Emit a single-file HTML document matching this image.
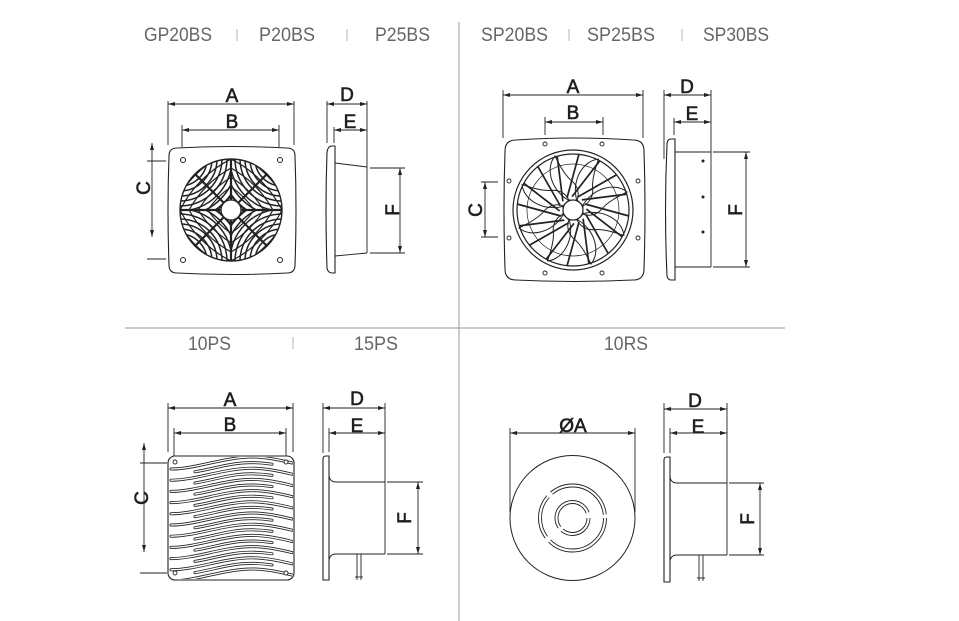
<!DOCTYPE html>
<html>
<head>
<meta charset="utf-8">
<style>
html,body{margin:0;padding:0;background:#fff;}
svg{display:block;}
</style>
</head>
<body>
<svg width="959" height="621" viewBox="0 0 959 621" xmlns="http://www.w3.org/2000/svg" xmlns:xlink="http://www.w3.org/1999/xlink" font-family="'Liberation Sans', sans-serif">
<defs>
  <marker id="ar" viewBox="0 0 7 4" refX="7" refY="2" markerWidth="7" markerHeight="4" markerUnits="userSpaceOnUse" orient="auto-start-reverse">
    <path d="M0,0 L7,2 L0,4 z" fill="#222"/>
  </marker>
  <clipPath id="gc"><circle cx="231" cy="210" r="51"/></clipPath>
  <clipPath id="q1"><rect x="180" y="159" width="51" height="51"/></clipPath>
  <clipPath id="q2"><rect x="231" y="159" width="51" height="51"/></clipPath>
  <clipPath id="q3"><rect x="180" y="210" width="51" height="51"/></clipPath>
  <clipPath id="q4"><rect x="231" y="210" width="51" height="51"/></clipPath>
  <clipPath id="pl"><rect x="169" y="457" width="124" height="122" rx="6"/></clipPath>
  <g id="cc" fill="none">
    <circle r="12"/><circle r="17"/><circle r="22"/><circle r="27"/><circle r="32"/><circle r="37"/>
    <circle r="42"/><circle r="47"/><circle r="52"/><circle r="57"/><circle r="62"/><circle r="67"/><circle r="72"/>
  </g>
  <g id="cc2" fill="none">
    <circle r="82"/><circle r="90"/><circle r="98"/><circle r="106"/><circle r="114"/><circle r="122"/>
  </g>
  <path id="blade" d="M10,-5 C20,-22 42,-28 54,-18 C46,-14 34,-8 28,0 C22,6 14,6 10,4 Z" fill="none"/>
  <line id="spk" x1="12" y1="-6" x2="56" y2="6"/>
  <path id="wf" d="M171,6 C196,6 224,-6 252,-6 C266,-6 280,-3 292,0" fill="none"/>
  <path id="ws" d="M195,3.2 C215,0 230,-6 252,-6 C262,-6 268,-5 272,-4.4" fill="none"/>
  <g id="rows">
    <use xlink:href="#wf" y="463"/>
    <use xlink:href="#ws" y="468.6"/>
    <use xlink:href="#wf" y="474.2"/>
    <use xlink:href="#ws" y="479.8"/>
    <use xlink:href="#wf" y="485.4"/>
    <use xlink:href="#ws" y="491"/>
    <use xlink:href="#wf" y="496.6"/>
    <use xlink:href="#ws" y="502.2"/>
    <use xlink:href="#wf" y="507.8"/>
    <use xlink:href="#ws" y="513.4"/>
    <use xlink:href="#wf" y="519"/>
    <use xlink:href="#ws" y="524.6"/>
    <use xlink:href="#wf" y="530.2"/>
    <use xlink:href="#ws" y="535.8"/>
    <use xlink:href="#wf" y="541.4"/>
    <use xlink:href="#ws" y="547"/>
    <use xlink:href="#wf" y="552.6"/>
    <use xlink:href="#ws" y="558.2"/>
    <use xlink:href="#wf" y="563.8"/>
    <use xlink:href="#ws" y="569.4"/>
    <use xlink:href="#wf" y="575"/>
  </g>
</defs>

<rect width="959" height="621" fill="#fff"/>

<!-- dividers -->
<line x1="459" y1="22" x2="459" y2="621" stroke="#9a9a9a" stroke-width="1"/>
<line x1="125" y1="328" x2="785" y2="328" stroke="#9a9a9a" stroke-width="1"/>

<!-- headers -->
<g fill="#666" font-size="19.5">
  <text x="144" y="41" textLength="68" lengthAdjust="spacingAndGlyphs">GP20BS</text>
  <text x="259" y="41" textLength="56" lengthAdjust="spacingAndGlyphs">P20BS</text>
  <text x="375" y="41" textLength="55" lengthAdjust="spacingAndGlyphs">P25BS</text>
  <text x="481" y="41" textLength="67" lengthAdjust="spacingAndGlyphs">SP20BS</text>
  <text x="587" y="41" textLength="68" lengthAdjust="spacingAndGlyphs">SP25BS</text>
  <text x="703" y="41" textLength="66" lengthAdjust="spacingAndGlyphs">SP30BS</text>
  <text x="188" y="350" textLength="43" lengthAdjust="spacingAndGlyphs">10PS</text>
  <text x="354" y="350" textLength="44" lengthAdjust="spacingAndGlyphs">15PS</text>
  <text x="604" y="350" textLength="44" lengthAdjust="spacingAndGlyphs">10RS</text>
</g>
<g stroke="#b5b5b5" stroke-width="1">
  <line x1="237" y1="29" x2="237" y2="41"/>
  <line x1="347" y1="29" x2="347" y2="41"/>
  <line x1="569" y1="29" x2="569" y2="41"/>
  <line x1="682" y1="29" x2="682" y2="41"/>
  <line x1="293" y1="337" x2="293" y2="349"/>
</g>

<!-- dimension labels -->
<g fill="#1e1e1e" stroke="#1e1e1e" stroke-width="0.6" font-size="19" text-anchor="middle">
  <text x="232" y="102">A</text>
  <text x="232" y="128">B</text>
  <text x="347" y="101">D</text>
  <text x="350" y="128">E</text>
  <text x="573" y="93">A</text>
  <text x="573" y="119">B</text>
  <text x="687" y="93">D</text>
  <text x="692" y="120">E</text>
  <text x="230" y="406">A</text>
  <text x="230" y="431">B</text>
  <text x="357" y="405">D</text>
  <text x="357" y="432">E</text>
  <text x="573" y="432">ØA</text>
  <text x="695" y="407">D</text>
  <text x="698" y="433">E</text>
  <text transform="translate(143 188) rotate(-90)" dy="7">C</text>
  <text transform="translate(392 210) rotate(-90)" dy="7">F</text>
  <text transform="translate(475 210) rotate(-90)" dy="7">C</text>
  <text transform="translate(735 210) rotate(-90)" dy="7">F</text>
  <text transform="translate(141 498) rotate(-90)" dy="7">C</text>
  <text transform="translate(404 518) rotate(-90)" dy="7">F</text>
  <text transform="translate(747 519) rotate(-90)" dy="7">F</text>
</g>

<!-- ===== GP front ===== -->
<g stroke="#222" stroke-width="0.9" fill="none">
  <line x1="168" y1="101" x2="168" y2="145"/>
  <line x1="294" y1="101" x2="294" y2="145"/>
  <line x1="182" y1="125" x2="182" y2="147"/>
  <line x1="279" y1="125" x2="279" y2="147"/>
  <line x1="168" y1="104" x2="294" y2="104" marker-start="url(#ar)" marker-end="url(#ar)"/>
  <line x1="182" y1="130" x2="279" y2="130" marker-start="url(#ar)" marker-end="url(#ar)"/>
  <line x1="152" y1="143" x2="152" y2="237" marker-start="url(#ar)" marker-end="url(#ar)"/>
  <line x1="147" y1="161" x2="166" y2="161"/>
  <line x1="147" y1="259" x2="166" y2="259"/>
</g>
<path d="M177,148 Q232,145 287,148 Q295,148 295,156 Q297,210 295,265 Q295,273 287,273 Q232,276 177,273 Q169,273 169,265 Q167,210 169,156 Q169,148 177,148 Z" fill="#fff" stroke="#222" stroke-width="1.1"/>
<g fill="none" stroke="#222" stroke-width="1">
  <circle cx="183" cy="160" r="2.5"/><circle cx="280" cy="160" r="2.5"/>
  <circle cx="183" cy="260" r="2.5"/><circle cx="280" cy="260" r="2.5"/>
</g>
<g clip-path="url(#gc)" stroke="#222" stroke-width="1.5">
  <g clip-path="url(#q1)"><use xlink:href="#cc" x="180" y="159"/><use xlink:href="#cc2" x="282" y="261" stroke-width="1.2"/></g>
  <g clip-path="url(#q2)"><use xlink:href="#cc" x="282" y="159"/><use xlink:href="#cc2" x="180" y="261" stroke-width="1.2"/></g>
  <g clip-path="url(#q3)"><use xlink:href="#cc" x="180" y="261"/><use xlink:href="#cc2" x="282" y="159" stroke-width="1.2"/></g>
  <g clip-path="url(#q4)"><use xlink:href="#cc" x="282" y="261"/><use xlink:href="#cc2" x="180" y="159" stroke-width="1.2"/></g>
  <line x1="180" y1="210" x2="282" y2="210" stroke-width="2.2"/>
  <line x1="231" y1="159" x2="231" y2="261" stroke-width="2.2"/>
  <line x1="195" y1="174" x2="267" y2="246" stroke-width="2.2"/>
  <line x1="267" y1="174" x2="195" y2="246" stroke-width="2.2"/>
</g>
<circle cx="231" cy="210" r="51" fill="none" stroke="#222" stroke-width="1.4"/>
<circle cx="231" cy="210" r="10" fill="#fff" stroke="#222" stroke-width="1.3"/>

<!-- ===== GP side ===== -->
<g stroke="#222" stroke-width="0.9" fill="none">
  <line x1="327" y1="101" x2="327" y2="143"/>
  <line x1="367" y1="101" x2="367" y2="253"/>
  <line x1="327" y1="104" x2="367" y2="104" marker-start="url(#ar)" marker-end="url(#ar)"/>
  <line x1="334" y1="127" x2="334" y2="143"/>
  <line x1="334" y1="130" x2="367" y2="130" marker-start="url(#ar)" marker-end="url(#ar)"/>
  <path d="M335,146 L332,146 Q328,146 327,152 Q325,210 327,268 Q328,273 332,273 L335,273 Z" stroke-width="1.1"/>
  <line x1="335" y1="163" x2="367" y2="167"/>
  <line x1="335" y1="256" x2="367" y2="253"/>
  <line x1="370" y1="168" x2="405" y2="168"/>
  <line x1="370" y1="253" x2="405" y2="253"/>
  <line x1="400" y1="168" x2="400" y2="253" marker-start="url(#ar)" marker-end="url(#ar)"/>
</g>

<!-- ===== SP front ===== -->
<g stroke="#222" stroke-width="0.9" fill="none">
  <line x1="503" y1="90" x2="503" y2="138"/>
  <line x1="643" y1="90" x2="643" y2="138"/>
  <line x1="545" y1="117" x2="545" y2="135"/>
  <line x1="603" y1="117" x2="603" y2="135"/>
  <line x1="503" y1="95" x2="643" y2="95" marker-start="url(#ar)" marker-end="url(#ar)"/>
  <line x1="545" y1="122" x2="603" y2="122" marker-start="url(#ar)" marker-end="url(#ar)"/>
  <line x1="485" y1="182" x2="485" y2="237" marker-start="url(#ar)" marker-end="url(#ar)"/>
  <line x1="481" y1="182" x2="498" y2="182"/>
  <line x1="481" y1="237" x2="498" y2="237"/>
</g>
<path d="M516,140 Q574,136 633,140 Q644,140 644,151 Q646,210 644,269 Q644,280 633,280 Q574,283 516,280 Q505,280 505,269 Q503,210 505,151 Q505,140 516,140 Z" fill="#fff" stroke="#222" stroke-width="1.1"/>
<g fill="none" stroke="#222" stroke-width="0.9">
  <circle cx="545" cy="144" r="2"/><circle cx="602" cy="144" r="2"/>
  <circle cx="545" cy="273" r="2"/><circle cx="602" cy="273" r="2"/>
  <circle cx="509" cy="181" r="2"/><circle cx="509" cy="238" r="2"/>
  <circle cx="638" cy="181" r="2"/><circle cx="638" cy="238" r="2"/>
</g>
<g transform="translate(573 210)" fill="none" stroke="#222">
  <circle r="60" stroke-width="1.2"/>
  <circle r="56" stroke-width="1.2"/>
  <circle r="46" stroke-width="0.7"/>
  <g stroke-width="1">
    <use xlink:href="#blade"/>
    <use xlink:href="#blade" transform="rotate(45)"/>
    <use xlink:href="#blade" transform="rotate(90)"/>
    <use xlink:href="#blade" transform="rotate(135)"/>
    <use xlink:href="#blade" transform="rotate(180)"/>
    <use xlink:href="#blade" transform="rotate(225)"/>
    <use xlink:href="#blade" transform="rotate(270)"/>
    <use xlink:href="#blade" transform="rotate(315)"/>
  </g>
  <g stroke-width="1.7">
    <use xlink:href="#spk"/>
    <use xlink:href="#spk" transform="rotate(22.5)"/>
    <use xlink:href="#spk" transform="rotate(45)"/>
    <use xlink:href="#spk" transform="rotate(67.5)"/>
    <use xlink:href="#spk" transform="rotate(90)"/>
    <use xlink:href="#spk" transform="rotate(112.5)"/>
    <use xlink:href="#spk" transform="rotate(135)"/>
    <use xlink:href="#spk" transform="rotate(157.5)"/>
    <use xlink:href="#spk" transform="rotate(180)"/>
    <use xlink:href="#spk" transform="rotate(202.5)"/>
    <use xlink:href="#spk" transform="rotate(225)"/>
    <use xlink:href="#spk" transform="rotate(247.5)"/>
    <use xlink:href="#spk" transform="rotate(270)"/>
    <use xlink:href="#spk" transform="rotate(292.5)"/>
    <use xlink:href="#spk" transform="rotate(315)"/>
    <use xlink:href="#spk" transform="rotate(337.5)"/>
  </g>
  <circle r="10" fill="#fff" stroke-width="1.2"/>
</g>

<!-- ===== SP side ===== -->
<g stroke="#222" stroke-width="0.9" fill="none">
  <line x1="664" y1="90" x2="664" y2="159"/>
  <line x1="711" y1="90" x2="711" y2="267"/>
  <line x1="664" y1="95" x2="711" y2="95" marker-start="url(#ar)" marker-end="url(#ar)"/>
  <line x1="674" y1="118" x2="674" y2="135"/>
  <line x1="674" y1="122" x2="711" y2="122" marker-start="url(#ar)" marker-end="url(#ar)"/>
  <path d="M675,139 L671,139 Q667,139 667,145 Q664,210 667,276 Q668,280 671,280 L675,280 Z" stroke-width="1.1"/>
  <line x1="675" y1="152" x2="711" y2="152"/>
  <line x1="675" y1="267" x2="711" y2="267"/>
  <line x1="713" y1="152" x2="750" y2="152"/>
  <line x1="713" y1="267" x2="750" y2="267"/>
  <line x1="746" y1="152" x2="746" y2="267" marker-start="url(#ar)" marker-end="url(#ar)"/>
</g>
<g fill="#222">
  <circle cx="703" cy="161" r="1.5"/><circle cx="703" cy="197" r="1.5"/><circle cx="703" cy="232" r="1.5"/>
</g>

<!-- ===== 10PS front ===== -->
<g stroke="#222" stroke-width="0.9" fill="none">
  <line x1="168" y1="403" x2="168" y2="452"/>
  <line x1="293" y1="403" x2="293" y2="452"/>
  <line x1="174" y1="428" x2="174" y2="456"/>
  <line x1="286" y1="428" x2="286" y2="456"/>
  <line x1="168" y1="408" x2="293" y2="408" marker-start="url(#ar)" marker-end="url(#ar)"/>
  <line x1="174" y1="433" x2="286" y2="433" marker-start="url(#ar)" marker-end="url(#ar)"/>
  <line x1="144" y1="443" x2="144" y2="552" marker-start="url(#ar)" marker-end="url(#ar)"/>
  <line x1="140" y1="463" x2="167" y2="463"/>
  <line x1="140" y1="573" x2="167" y2="573"/>
</g>
<rect x="168" y="456" width="126" height="124" rx="7" fill="#fff" stroke="#222" stroke-width="1.1"/>
<g clip-path="url(#pl)" stroke-linecap="round">
  <use xlink:href="#rows" stroke="#222" stroke-width="3"/>
  <use xlink:href="#rows" stroke="#fff" stroke-width="1.3"/>
</g>
<g fill="#fff" stroke="#222" stroke-width="0.9">
  <circle cx="175" cy="462" r="2"/><circle cx="286" cy="462" r="2"/>
  <circle cx="175" cy="573" r="2"/><circle cx="286" cy="573" r="2"/>
</g>

<!-- ===== 10PS side ===== -->
<g stroke="#222" stroke-width="0.9" fill="none">
  <line x1="323" y1="403" x2="323" y2="453"/>
  <line x1="385" y1="403" x2="385" y2="554"/>
  <line x1="323" y1="408" x2="385" y2="408" marker-start="url(#ar)" marker-end="url(#ar)"/>
  <line x1="329" y1="428" x2="329" y2="452"/>
  <line x1="329" y1="433" x2="385" y2="433" marker-start="url(#ar)" marker-end="url(#ar)"/>
  <path d="M329,456 L326,456 Q323,456 323,459 L323,580 L329,580 Z" stroke-width="1.1"/>
  <path d="M329,476 Q330,482 336,482 L385,482"/>
  <path d="M329,560 Q330,554 336,554 L385,554"/>
  <line x1="357" y1="554" x2="357" y2="580"/>
  <line x1="361" y1="554" x2="361" y2="580"/>
  <line x1="355" y1="577" x2="363" y2="577"/>
  <line x1="387" y1="482" x2="423" y2="482"/>
  <line x1="387" y1="554" x2="423" y2="554"/>
  <line x1="418" y1="482" x2="418" y2="554" marker-start="url(#ar)" marker-end="url(#ar)"/>
</g>

<!-- ===== 10RS front ===== -->
<g stroke="#222" stroke-width="0.9" fill="none">
  <line x1="510" y1="428" x2="510" y2="512"/>
  <line x1="635" y1="428" x2="635" y2="512"/>
  <line x1="510" y1="433" x2="635" y2="433" marker-start="url(#ar)" marker-end="url(#ar)"/>
  <circle cx="572.5" cy="518" r="62.5" stroke-width="1"/>
  <circle cx="572.5" cy="518" r="34" stroke-dasharray="80 5 46 5 73.6 4"/>
  <circle cx="572.5" cy="518" r="31" stroke-dasharray="73 4.6 42 4.6 67.1 3.6"/>
  <circle cx="572.5" cy="518" r="17.5" stroke-dasharray="40 4 60 6"/>
  <circle cx="572.5" cy="518" r="14.5" stroke-dasharray="33 3.3 49.8 5"/>
</g>

<!-- ===== 10RS side ===== -->
<g stroke="#222" stroke-width="0.9" fill="none">
  <line x1="664" y1="403" x2="664" y2="453"/>
  <line x1="727" y1="403" x2="727" y2="555"/>
  <line x1="664" y1="409" x2="727" y2="409" marker-start="url(#ar)" marker-end="url(#ar)"/>
  <line x1="670" y1="428" x2="670" y2="453"/>
  <line x1="670" y1="433" x2="727" y2="433" marker-start="url(#ar)" marker-end="url(#ar)"/>
  <path d="M670,457 L667,457 Q664,457 664,460 L664,582 L670,582 Z" stroke-width="1.1"/>
  <path d="M670,477 Q671,483 677,483 L727,483"/>
  <path d="M670,561 Q671,555 677,555 L727,555"/>
  <line x1="699" y1="555" x2="699" y2="581"/>
  <line x1="703" y1="555" x2="703" y2="581"/>
  <line x1="697" y1="578" x2="705" y2="578"/>
  <line x1="729" y1="483" x2="764" y2="483"/>
  <line x1="729" y1="555" x2="764" y2="555"/>
  <line x1="760" y1="483" x2="760" y2="555" marker-start="url(#ar)" marker-end="url(#ar)"/>
</g>
</svg>
</body>
</html>
